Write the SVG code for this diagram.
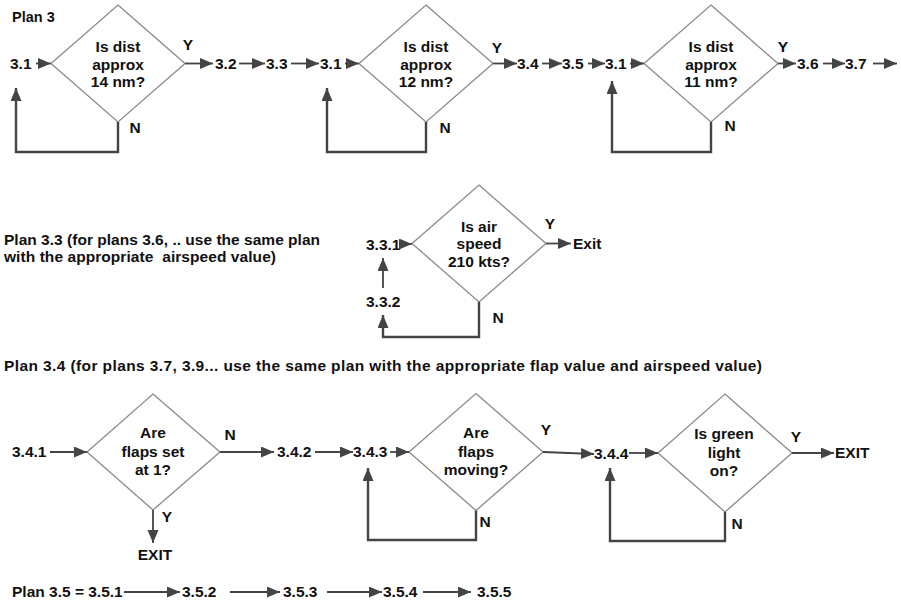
<svg xmlns="http://www.w3.org/2000/svg" width="901" height="603" viewBox="0 0 901 603">
<style>
text{font-family:"Liberation Sans",Arial,sans-serif;font-weight:bold;font-size:15.5px;fill:#111}
.c{text-anchor:middle}
.d{fill:#fff;stroke:#8a8a8a;stroke-width:1.3}
.a{fill:none;stroke:#444;stroke-width:1.8}
.l{fill:none;stroke:#444;stroke-width:2.4}
.pre{white-space:pre}
</style>
<defs>
<marker id="ah" markerUnits="userSpaceOnUse" markerWidth="14" markerHeight="12" refX="13" refY="5.5" orient="auto">
<path d="M0,0 L13,5.5 L0,11 z" fill="#444"/>
</marker>
</defs>
<rect width="901" height="603" fill="#fff"/>

<text x="12" y="22" style="font-size:14.5px">Plan 3</text>

<g id="d1"><polygon class="d" points="118,5 185,63.5 118,122 51,63.5"/>
<text class="c" x="118" y="52">Is dist</text><text class="c" x="118" y="69.5">approx</text><text class="c" x="118" y="87">14 nm?</text></g>
<g id="d2"><polygon class="d" points="426,5 493,63.5 426,122 359,63.5"/>
<text class="c" x="426" y="52">Is dist</text><text class="c" x="426" y="69.5">approx</text><text class="c" x="426" y="87">12 nm?</text></g>
<g id="d3"><polygon class="d" points="711,5 778,63.5 711,122 644,63.5"/>
<text class="c" x="711" y="52">Is dist</text><text class="c" x="711" y="69.5">approx</text><text class="c" x="711" y="87">11 nm?</text></g>

<g id="row1-labels">
<text x="10" y="69">3.1</text>
<text x="215" y="69">3.2</text>
<text x="266" y="69">3.3</text>
<text x="320" y="69">3.1</text>
<text x="517" y="69">3.4</text>
<text x="562" y="69">3.5</text>
<text x="605" y="69">3.1</text>
<text x="797" y="69">3.6</text>
<text x="845" y="69">3.7</text>
</g>

<g id="plan33-text">
<text x="4" y="245" textLength="316">Plan 3.3 (for plans 3.6, .. use the same plan</text>
<text x="4" y="262" class="pre" textLength="272">with the appropriate  airspeed value)</text>
</g>
<g id="d4"><polygon class="d" points="479,185 546,243.5 479,302 412,243.5"/>
<text class="c" x="479" y="232">Is air</text><text class="c" x="479" y="249">speed</text><text class="c" x="479" y="267">210 kts?</text></g>
<g id="n331"><text x="366" y="250">3.3.1</text></g>
<g id="n332"><text x="366" y="307">3.3.2</text></g>
<g id="exit1"><text x="573" y="249">Exit</text></g>

<text x="4" y="371" textLength="758">Plan 3.4 (for plans 3.7, 3.9... use the same plan with the appropriate flap value and airspeed value)</text>

<g id="d5"><polygon class="d" points="153,394 220,452 153,510 87,452"/>
<text class="c" x="153" y="438">Are</text><text class="c" x="153" y="457">flaps set</text><text class="c" x="153" y="475">at 1?</text></g>
<g id="d6"><polygon class="d" points="476,393.5 543,452 476,510.5 409,452"/>
<text class="c" x="476" y="438">Are</text><text class="c" x="476" y="457">flaps</text><text class="c" x="476" y="475">moving?</text></g>
<g id="d7"><polygon class="d" points="725,394 792,453 725,512 658,453"/>
<text class="c" x="724" y="439">Is green</text><text class="c" x="724" y="458">light</text><text class="c" x="724" y="476">on?</text></g>
<g id="row3-labels">
<text x="12" y="457">3.4.1</text>
<text x="277" y="457">3.4.2</text>
<text x="353" y="457">3.4.3</text>
<text x="594" y="459">3.4.4</text>
<text x="835" y="458">EXIT</text>
<text class="c" x="155" y="560">EXIT</text>
</g>

<g id="plan35">
<text x="12" y="597">Plan 3.5 = 3.5.1</text>
<text x="182" y="597">3.5.2</text>
<text x="283" y="597">3.5.3</text>
<text x="383" y="597">3.5.4</text>
<text x="477" y="597">3.5.5</text>
</g>

<g id="connectors">
<line class="a" x1="36" y1="63.5" x2="51" y2="63.5" marker-end="url(#ah)"/>
<line class="a" x1="185" y1="63.5" x2="213" y2="63.5" marker-end="url(#ah)"/>
<line class="a" x1="239" y1="63.5" x2="265" y2="63.5" marker-end="url(#ah)"/>
<line class="a" x1="291" y1="63.5" x2="319" y2="63.5" marker-end="url(#ah)"/>
<line class="a" x1="345" y1="63.5" x2="359" y2="63.5" marker-end="url(#ah)"/>
<line class="a" x1="493" y1="63.5" x2="517" y2="63.5" marker-end="url(#ah)"/>
<line class="a" x1="542" y1="63.5" x2="562" y2="63.5" marker-end="url(#ah)"/>
<line class="a" x1="588" y1="63.5" x2="605" y2="63.5" marker-end="url(#ah)"/>
<line class="a" x1="630" y1="63.5" x2="644" y2="63.5" marker-end="url(#ah)"/>
<line class="a" x1="778" y1="63.5" x2="796" y2="63.5" marker-end="url(#ah)"/>
<line class="a" x1="823" y1="63.5" x2="845" y2="63.5" marker-end="url(#ah)"/>
<line class="a" x1="873" y1="63.5" x2="897" y2="63.5" marker-end="url(#ah)"/>
<path class="l" d="M118,122 V152 H16 V88" marker-end="url(#ah)"/>
<path class="l" d="M426,122 V152 H327 V88" marker-end="url(#ah)"/>
<path class="l" d="M711,122 V152 H612 V81" marker-end="url(#ah)"/>

<line class="a" x1="401" y1="244" x2="412" y2="244" marker-end="url(#ah)"/>
<line class="a" x1="546" y1="243.5" x2="571" y2="243.5" marker-end="url(#ah)"/>
<line class="a" x1="383" y1="288" x2="383" y2="258" marker-end="url(#ah)"/>
<path class="l" d="M479,302 V337 H383 V315" marker-end="url(#ah)"/>

<line class="a" x1="50" y1="452" x2="87" y2="452" marker-end="url(#ah)"/>
<line class="a" x1="220" y1="452" x2="274" y2="452" marker-end="url(#ah)"/>
<line class="a" x1="315" y1="452" x2="353" y2="452" marker-end="url(#ah)"/>
<line class="a" x1="390" y1="452" x2="409" y2="452" marker-end="url(#ah)"/>
<line class="a" x1="543" y1="452" x2="594" y2="454" marker-end="url(#ah)"/>
<line class="a" x1="629" y1="453" x2="658" y2="453" marker-end="url(#ah)"/>
<line class="a" x1="792" y1="453" x2="834" y2="453" marker-end="url(#ah)"/>
<line class="a" x1="153" y1="510" x2="153" y2="543" marker-end="url(#ah)"/>
<path class="l" d="M476,510.5 V540 H368 V468" marker-end="url(#ah)"/>
<path class="l" d="M725,512 V541 H610 V468" marker-end="url(#ah)"/>

<line class="a" x1="124" y1="592" x2="180" y2="592" marker-end="url(#ah)"/>
<line class="a" x1="230" y1="592" x2="280" y2="592" marker-end="url(#ah)"/>
<line class="a" x1="327" y1="592" x2="382" y2="592" marker-end="url(#ah)"/>
<line class="a" x1="423" y1="592" x2="471" y2="592" marker-end="url(#ah)"/>
</g>

<g id="branch-labels">
<text class="c" x="188" y="50">Y</text>
<text class="c" x="135" y="133">N</text>
<text class="c" x="497" y="53">Y</text>
<text class="c" x="445" y="133">N</text>
<text class="c" x="783" y="52">Y</text>
<text class="c" x="730" y="131">N</text>
<text class="c" x="550" y="229">Y</text>
<text class="c" x="498" y="323">N</text>
<text class="c" x="230" y="440">N</text>
<text class="c" x="167" y="522">Y</text>
<text class="c" x="546" y="435">Y</text>
<text class="c" x="485" y="527">N</text>
<text class="c" x="796" y="442">Y</text>
<text class="c" x="737" y="529">N</text>
</g>
</svg>
